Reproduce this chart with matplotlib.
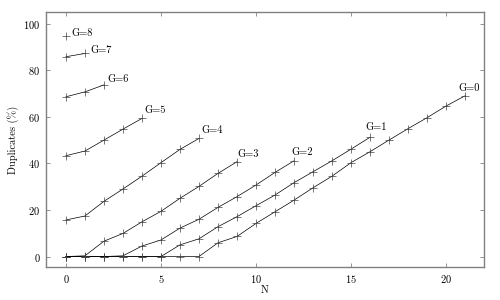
import matplotlib
matplotlib.use("Agg")
import matplotlib.pyplot as plt

plt.rcParams['font.family'] = ['cmr10', 'DejaVu Serif']
plt.rcParams['axes.formatter.use_mathtext'] = True
plt.rcParams['mathtext.fontset'] = 'cm'

# Data: duplicates (%) vs N for each G
g0 = [0, 0, 0, 0, 0, 0, 0, 0, 5.9, 8.6, 14.2, 19.2, 24.2, 29.5, 34.5, 40.3, 45.0, 50.0, 54.9, 59.6, 64.6, 69.0]
g1 = [0, 0, 0, 0, 0, 0, 5.0, 7.6, 12.8, 17.1, 21.8, 26.4, 31.7, 36.4, 41.1, 46.1, 51.2]
g2 = [0, 0, 0, 0.3, 4.5, 7.1, 12.2, 16.0, 21.1, 25.7, 30.7, 36.1, 41.1]
g3 = [0, 0.3, 6.6, 9.9, 14.9, 19.4, 25.0, 30.1, 35.7, 40.7]
g4 = [15.7, 17.4, 23.7, 29.0, 34.5, 40.3, 46.0, 50.7]
g5 = [43.3, 45.3, 50.0, 54.7, 59.3]
g6 = [68.6, 70.7, 73.7]
g7 = [85.8, 87.2]
g8 = [94.6]
series = [g0, g1, g2, g3, g4, g5, g6, g7, g8]
labels = ["G=%d" % g for g in range(len(series))]

# label offsets in pixels (dx, dy) relative to last point
offsets = [(-7, 5), (-5, 7), (-3, 5.5), (0.5, 5), (2.5, 5.5), (2, 5), (3.5, 3), (5.5, 0), (5.5, 0)]

fig = plt.figure(figsize=(5, 3), dpi=100)
ax = fig.add_axes([0.092, 0.11, 0.876, 0.85])

for vals, lab, off in zip(series, labels, offsets):
    xs = list(range(len(vals)))
    ax.plot(xs, vals, color='black', lw=0.5, marker='+', markersize=6,
            markeredgewidth=0.5, markeredgecolor='#444444')
    ax.annotate(lab, (xs[-1], vals[-1]), xytext=(off[0] * 0.72, off[1] * 0.72),
                textcoords='offset points', ha='left', va='baseline', fontsize=7.5)

ax.set_xlim(-1.05, 22)
ax.set_ylim(-4.5, 105)
ax.set_xticks([0, 5, 10, 15, 20])
ax.set_yticks([0, 20, 40, 60, 80, 100])
ax.set_xlabel("N", fontsize=7.5, labelpad=1)
ax.set_ylabel("Duplicates (%)", fontsize=7.5, labelpad=3)
ax.tick_params(direction='in', top=True, right=True, length=3, width=0.6,
               color='#808080', labelsize=7.5, pad=4)
for s in ax.spines.values():
    s.set_color('#808080')
    s.set_linewidth(1.0)

fig.savefig("out.png", dpi=100)
